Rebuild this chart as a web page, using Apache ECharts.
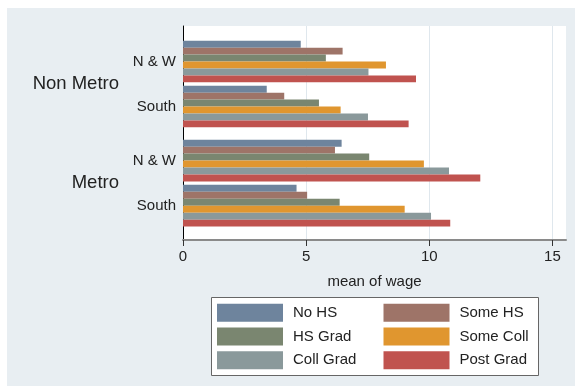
<!DOCTYPE html>
<html>
<head>
<meta charset="utf-8">
<script src="https://cdn.jsdelivr.net/npm/echarts@6/dist/echarts.min.js"></script>
<style>
html,body{margin:0;padding:0;background:#fff;}
#main{width:575px;height:386px;}
</style>
</head>
<body>
<div id="main"></div>
<script>
var metroGroups = ['Non Metro', 'Metro'];
var regions = ['N & W', 'South'];
var eduLevels = ['No HS', 'Some HS', 'HS Grad', 'Some Coll', 'Coll Grad', 'Post Grad'];
var xTicks = [0, 5, 10, 15];
// values order: [Non Metro N&W, Non Metro South, Metro N&W, Metro South]
var noHS     = [4.78, 3.40, 6.44, 4.61];
var someHS   = [6.48, 4.11, 6.17, 5.04];
var hsGrad   = [5.80, 5.52, 7.56, 6.36];
var someColl = [8.24, 6.40, 9.78, 9.00];
var collGrad = [7.53, 7.51, 10.80, 10.07];
var postGrad = [9.46, 9.16, 12.07, 10.85];

var eduValues = [noHS, someHS, hsGrad, someColl, collGrad, postGrad];
var colors = ['#6e849d', '#9e7468', '#7a8670', '#e0962f', '#8a999b', '#c0534f'];
var XMAX = 15.55;
var FONT = '"Liberation Sans", Arial, Helvetica, sans-serif';

var chart = echarts.init(document.getElementById('main'), null, {renderer: 'canvas'});

var grids = [
  {left: 183, right: 9, top: 26, bottom: 146, show: true, backgroundColor: '#ffffff', borderWidth: 0, outerBoundsMode: 'none', containLabel: false},
  {left: 183, right: 9, top: 39, height: 90, outerBoundsMode: 'none', containLabel: false},
  {left: 183, right: 9, top: 138, height: 90.3, outerBoundsMode: 'none', containLabel: false}
];

var xAxes = [
  {
    gridIndex: 0, type: 'value', min: 0, max: XMAX, interval: 5, position: 'bottom',
    axisLine: {show: true, lineStyle: {color: '#8a8a8a', width: 2}},
    axisTick: {show: true, length: 6, lineStyle: {color: '#333'}, customValues: xTicks},
    axisLabel: {fontSize: 15, color: '#222', margin: 9, fontFamily: FONT, customValues: xTicks},
    splitLine: {show: true, lineStyle: {color: '#dfe7ed', width: 1}},
    name: 'mean of wage', nameLocation: 'middle', nameGap: 34,
    nameTextStyle: {fontSize: 15, color: '#222', fontFamily: FONT}
  },
  {gridIndex: 1, type: 'value', min: 0, max: XMAX, show: false, position: 'bottom'},
  {gridIndex: 2, type: 'value', min: 0, max: XMAX, show: false, position: 'bottom'}
];

var yAxes = [
  {
    gridIndex: 0, type: 'value', min: 0, max: 1, position: 'left',
    axisLine: {show: true, lineStyle: {color: '#000', width: 1}},
    axisTick: {show: false}, axisLabel: {show: false}, splitLine: {show: false}
  }
];
metroGroups.forEach(function (m, gi) {
  yAxes.push({
    gridIndex: gi + 1, type: 'category', data: regions, inverse: true, position: 'left',
    axisLine: {show: false}, axisTick: {show: false}, splitLine: {show: false},
    axisLabel: {fontSize: 15, color: '#222', margin: 7, fontFamily: FONT}
  });
  yAxes.push({
    gridIndex: gi + 1, type: 'category', data: [m], position: 'left', offset: 0,
    axisLine: {show: false}, axisTick: {show: false}, splitLine: {show: false},
    axisLabel: {fontSize: 18.5, color: '#222', margin: 64, fontFamily: FONT}
  });
});

var series = [];
metroGroups.forEach(function (m, gi) {
  eduLevels.forEach(function (e, ei) {
    series.push({
      type: 'bar', name: e,
      xAxisIndex: gi + 1, yAxisIndex: 1 + gi * 2,
      data: eduValues[ei].slice(gi * 2, gi * 2 + 2),
      barGap: '0%', barCategoryGap: '7.5%',
      itemStyle: {color: colors[ei]},
      emphasis: {disabled: true},
      animation: false
    });
  });
});

var legendStyle = {
  orient: 'vertical', padding: 0, itemWidth: 66, itemHeight: 18, itemGap: 5.8,
  icon: 'rect', selectedMode: false,
  textStyle: {fontSize: 15, color: '#222', fontFamily: FONT, padding: [0, 0, 0, 5]}
};

var option = {
  backgroundColor: '#e8eef2',
  animation: false,
  color: colors,
  graphic: [
    {type: 'rect', shape: {x: 0, y: 0, width: 575, height: 8}, style: {fill: '#ffffff'}, silent: true},
    {type: 'rect', shape: {x: 0, y: 0, width: 7, height: 386}, style: {fill: '#ffffff'}, silent: true},
    {type: 'rect', shape: {x: 211.5, y: 297.5, width: 327, height: 78}, style: {fill: '#ffffff', stroke: '#666', lineWidth: 1}, silent: true}
  ],
  grid: grids,
  xAxis: xAxes,
  yAxis: yAxes,
  legend: [
    Object.assign({left: 217, top: 303.7, data: [eduLevels[0], eduLevels[2], eduLevels[4]]}, legendStyle),
    Object.assign({left: 383.5, top: 303.7, data: [eduLevels[1], eduLevels[3], eduLevels[5]]}, legendStyle)
  ],
  series: series
};
chart.setOption(option);
</script>
</body>
</html>
